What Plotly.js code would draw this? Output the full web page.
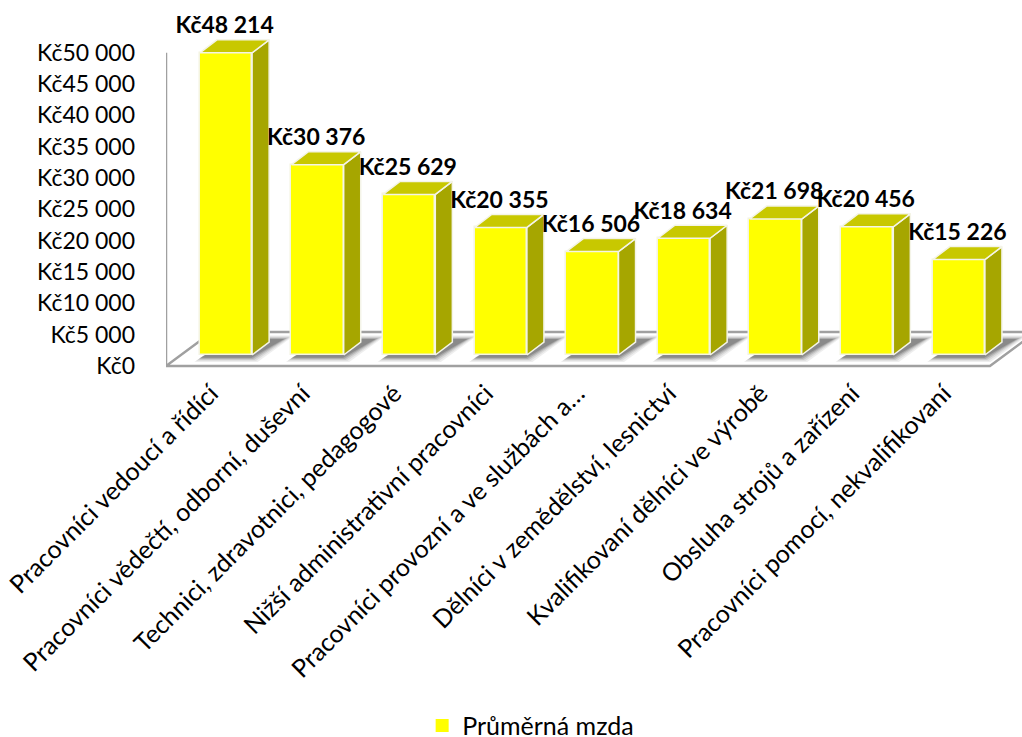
<!DOCTYPE html>
<html>
<head>
<meta charset="utf-8">
<script src="https://cdn.plot.ly/plotly-3.0.1.min.js"></script>
<style>html,body{margin:0;padding:0;background:#fff;overflow:hidden}</style>
</head>
<body>
<div id="chart" style="width:1022px;height:737px"></div>
<script>
// Average wage by occupation group, drawn as pseudo-3D columns.
const categories = [
  "Pracovníci vedoucí a řídící",
  "Pracovníci vědečtí, odborní, duševní",
  "Technici, zdravotnici, pedagogové",
  "Nižší administrativní pracovníci",
  "Pracovníci provozní a ve službách a…",
  "Dělníci v zemědělství, lesnictví",
  "Kvalifikovaní dělníci ve výrobě",
  "Obsluha strojů a zařízení",
  "Pracovníci pomocí, nekvalifikovaní"
];
const wages = [48214, 30376, 25629, 20355, 16506, 18634, 21698, 20456, 15226];
const yTicks = [0, 5000, 10000, 15000, 20000, 25000, 30000, 35000, 40000, 45000, 50000];
const seriesName = "Průměrná mzda";

const fontFamily = "Lato, Carlito, sans-serif";
const money = v => "Kč" + String(v).replace(/\B(?=(\d{3})+$)/g, " ");
const positions = categories.map((_, i) => i);

// Projection of the fake depth, in axis units.
const barWidth = 0.57;
const depthX = 0.186, depthY = 2070;   // front face to back face
const lift = 1752;                     // front face sits above the floor's front edge
const floorLeft = -0.655, floorRight = 8.34, floorDepthX = 0.502, floorBack = 5420;
const labelGap = 4050;
const axisColor = "#a0a0a0";

const path = pts => "M" + pts.map(p => p[0] + "," + p[1]).join("L") + "Z";

// Floor outline, value axis line and the soft shadow under each column, all behind the traces.
const shapes = [{
  type: "path", layer: "below", xref: "x", yref: "y",
  path: path([[floorLeft, 0], [floorRight, 0], [floorRight + floorDepthX, floorBack], [floorLeft + floorDepthX, floorBack]]),
  fillcolor: "#ffffff", line: {color: axisColor, width: 2.5}
}, {
  type: "line", layer: "below", xref: "x", yref: "y",
  x0: floorLeft, x1: floorLeft, y0: 0, y1: yTicks[yTicks.length - 1],
  line: {color: axisColor, width: 2.5}
}];
const shadowSteps = [[0.10, 0.10], [0.07, 0.13], [0.04, 0.18], [0.015, 0.26], [-0.01, 0.36]];
positions.forEach(i => {
  const l = i - barWidth / 2, r = i + barWidth / 2;
  shadowSteps.forEach(([grow, alpha]) => {
    shapes.push({
      type: "path", layer: "below", xref: "x", yref: "y",
      path: path([
        [l - grow * 0.6, lift - 500 - grow * 6000],
        [r + grow * 0.6, lift - 500 - grow * 6000],
        [r + 0.36 + grow, lift + 2600 + grow * 5000],
        [l + 0.36 - grow * 0.2, lift + 2600 + grow * 5000]
      ]),
      fillcolor: "rgba(90,90,90," + alpha + ")", line: {width: 0}
    });
  });
});

// One closed polygon per column for a side or top face, split by nulls.
function faces(corners) {
  const xs = [], ys = [];
  positions.forEach(i => {
    corners(i, wages[i] + lift).forEach(([x, y]) => { xs.push(x); ys.push(y); });
    xs.push(null); ys.push(null);
  });
  return {xs, ys};
}
const side = faces((i, top) => {
  const r = i + barWidth / 2;
  return [[r, lift], [r + depthX, lift + depthY], [r + depthX, top + depthY], [r, top], [r, lift]];
});
const roof = faces((i, top) => {
  const l = i - barWidth / 2, r = i + barWidth / 2;
  return [[l, top], [r, top], [r + depthX, top + depthY], [l + depthX, top + depthY], [l, top]];
});

const faceTrace = (f, color) => ({
  type: "scatter", mode: "lines", x: f.xs, y: f.ys, fill: "toself", fillcolor: color,
  line: {color: "#f4f4e8", width: 1.5}, showlegend: false, hoverinfo: "skip"
});

const traces = [
  {
    type: "bar", name: seriesName, x: positions, y: wages, base: lift, width: barWidth,
    marker: {color: "#ffff00", line: {color: "#f4f4e0", width: 1.5}}, showlegend: false
  },
  faceTrace(side, "#a6a600"),
  faceTrace(roof, "#c8c800"),
  {
    type: "scatter", mode: "text", x: positions.map(i => i - 0.015),
    y: wages.map(v => v + lift + labelGap), text: wages.map(money),
    textposition: "middle center", showlegend: false, hoverinfo: "skip",
    textfont: {family: fontFamily, size: 23, color: "#000000", weight: 700}
  },
  // Carries the plain square legend key; it has no points of its own.
  {
    type: "scatter", mode: "markers", name: seriesName, x: [null], y: [null],
    marker: {symbol: "square", size: 13, color: "#ffff00"}, hoverinfo: "skip"
  }
];

const layout = {
  width: 1022, height: 737, showlegend: true,
  margin: {l: 166, r: 0, t: 5, b: 368, pad: 0, autoexpand: false},
  paper_bgcolor: "#ffffff", plot_bgcolor: "rgba(0,0,0,0)",
  font: {family: fontFamily, size: 23, color: "#000000"},
  bargap: 0,
  shapes: shapes,
  xaxis: {
    range: [floorLeft, 8.69], tickmode: "array", tickvals: positions, ticktext: categories,
    tickangle: -45, ticks: "", showgrid: false, zeroline: false, showline: false,
    ticklabelshift: -15, ticklabelstandoff: 4,
    automargin: false, tickfont: {family: fontFamily, size: 25, color: "#000000"}
  },
  yaxis: {
    range: [-480, 57600], tickmode: "array", tickvals: yTicks, ticktext: yTicks.map(money),
    showgrid: false, zeroline: false, showline: false,
    ticks: "", ticklabelstandoff: 30, automargin: false,
    tickfont: {family: fontFamily, size: 23, color: "#000000"}
  },
  legend: {
    orientation: "h", x: 0.426, xanchor: "center", y: -0.98, yanchor: "middle",
    font: {family: fontFamily, size: 25, color: "#000000"}, bgcolor: "rgba(0,0,0,0)"
  }
};

Plotly.newPlot("chart", traces, layout, {displayModeBar: false, responsive: false});
</script>
</body>
</html>
